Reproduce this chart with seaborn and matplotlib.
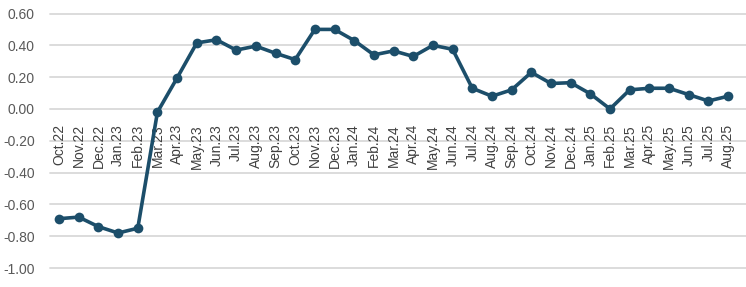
import matplotlib
matplotlib.use("Agg")
import matplotlib.pyplot as plt
import seaborn as sns
import pandas as pd

months = ["Oct.22", "Nov.22", "Dec.22",
          "Jan.23", "Feb.23", "Mar.23", "Apr.23", "May.23", "Jun.23", "Jul.23", "Aug.23", "Sep.23", "Oct.23", "Nov.23", "Dec.23",
          "Jan.24", "Feb.24", "Mar.24", "Apr.24", "May.24", "Jun.24", "Jul.24", "Aug.24", "Sep.24", "Oct.24", "Nov.24", "Dec.24",
          "Jan.25", "Feb.25", "Mar.25", "Apr.25", "May.25", "Jun.25", "Jul.25", "Aug.25"]
values = [-0.69, -0.68, -0.74,
          -0.78, -0.75, -0.02, 0.195, 0.415, 0.435, 0.37, 0.395, 0.35, 0.31, 0.50, 0.50,
          0.43, 0.34, 0.365, 0.33, 0.40, 0.375, 0.13, 0.08, 0.12, 0.23, 0.16, 0.165,
          0.095, 0.00, 0.12, 0.13, 0.13, 0.09, 0.05, 0.08]
yticks = [0.6, 0.4, 0.2, 0.0, -0.2, -0.4, -0.6, -0.8, -1.0]

df = pd.DataFrame({"pos": range(len(months)), "value": values})

sns.set_theme(style="white")
plt.rcParams["font.family"] = ["Liberation Sans", "DejaVu Sans"]

fig = plt.figure(figsize=(7.46, 2.87), dpi=100)
ax = fig.add_axes([50 / 746, 19 / 287, 696 / 746, 254.5 / 287])

sns.lineplot(data=df, x="pos", y="value", ax=ax, color="#1c4e6a", lw=2.6,
             marker="o", markersize=7, markeredgewidth=0, zorder=3)

ax.spines["bottom"].set_position(("data", 0))
for s in ax.spines.values():
    s.set_visible(False)

ax.set_ylim(-1.0, 0.6)
ax.set_xlim(-0.46, len(months) - 1 + 0.91)
ax.set_yticks(yticks)
ax.set_yticklabels([f"{v:.2f}" for v in yticks], color="#595959", fontsize=10)
for v in yticks:
    ax.axhline(v, color="#d9d9d9", lw=1.3, zorder=0, clip_on=False)

ax.set_xticks(range(len(months)))
ax.set_xticklabels(months, rotation=90, color="#404040", fontsize=10, va="top", ha="center")
ax.tick_params(axis="x", length=0, pad=11)
ax.tick_params(axis="y", length=0, pad=11)
ax.set_xlabel("")
ax.set_ylabel("")
ax.grid(False)

fig.savefig("out.png", dpi=100)
